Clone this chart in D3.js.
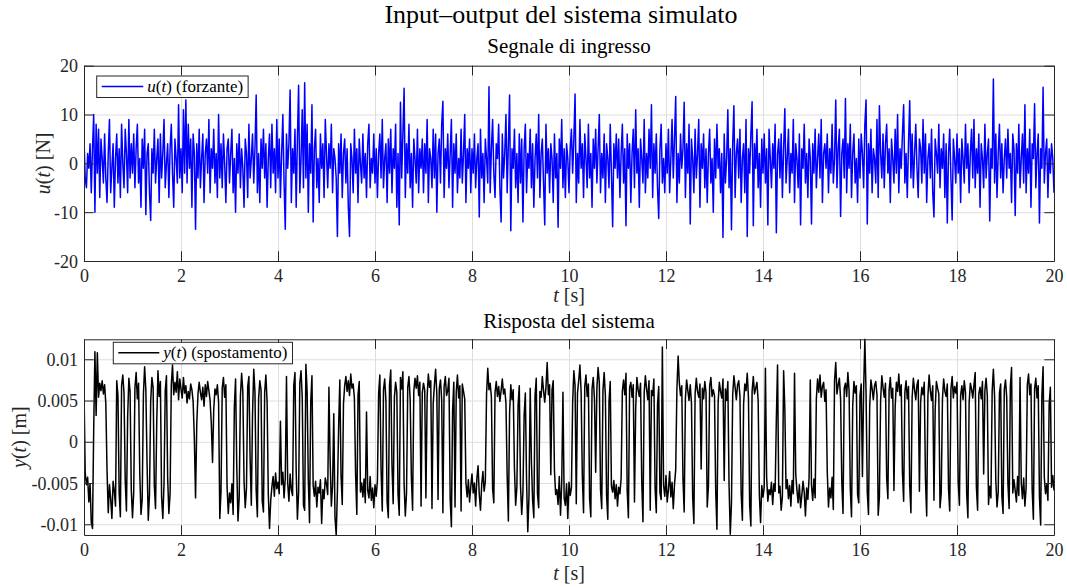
<!DOCTYPE html>
<html><head><meta charset="utf-8">
<script src="https://cdn.jsdelivr.net/npm/d3@7"></script>
<style>
body{margin:0;background:#fff}
svg{display:block}
text{font-family:"Liberation Serif","Times New Roman",serif}
</style>
</head><body>
<svg id="chart" width="1067" height="588"></svg>
<script>
// ---------------- data ----------------
const figureTitle = "Input\u2013output del sistema simulato";
const panelTitles = ["Segnale di ingresso", "Risposta del sistema"];
const timeStart = 0, timeEnd = 20, sampleStep = 0.025; // s
const xTicks = [0,2,4,6,8,10,12,14,16,18,20];
const uTicks = [-20,-10,0,10,20];
const uTickLabels = ["-20","-10","0","10","20"];
const yTicks = [-0.01,-0.005,0,0.005,0.01];
const yTickLabels = ["-0.01","-0.005","0","0.005","0.01"];

// u(t) forcing [N], one row per second (40 samples / s)
const uValues = [
5,-3,-5,2,-1,4,-6,3,10,-10,8,-2,7,-7,5,1,-4,6,-3,-8,2,9,-6,-1,4,-9,1,6,-4,3,-7,8,0,-5,7,2,-6,9,-3,4,
-2,6,-5,3,8,-4,1,-9,5,-1,7,-10.5,2,4,-6,-11.7,3,-2,7,-4,1,5,-8,6,-3,2,9,-5,0,4,-7,3,8,-2,-9,5,1,-4,12,-3,
3,-6,11,-2,13,-4,8,-1,5,-9,6,2,-13.5,4,-3,7,-5,1,6,-8,2,5,-2,9,-6,3,-1,7,-4,2,-7,10,-3,4,-5,6,0,-8,3,5,
-4,2,7,-6,1,-10,4,-2,6,-5,3,-1,-9,5,2,-7,8,-3,1,6,-4,3,14,-6,2,-8,5,-1,7,-3,4,-9,1,6,-5,8,-2,3,-6,9,
-3,5,-7,2,10,-4,-13.5,6,-1,4,15,-8,3,-2,7,-9,5,16,-6,1,11,-5,16.5,-3,8,-10,4,-2,12,-12,3,7,-5,1,-8,6,-1,4,-7,9,
2,-5,4,-1,8,-6,3,1,-3,-15,4,-2,6,-7,2,5,-4,3,-9,-15,4,1,-6,7,-2,3,-8,5,0,-4,6,-3,2,-7,4,8,-5,1,-2,6,
-4,3,-7,2,6,-3,9,-5,1,4,-8,5,-2,7,-6,3,-1,8,-9,2,-12.6,12.5,-3,6,15.4,-7,4,-2,8,-5,2,-9,5,1,-4,7,-6,3,-1,5,
-6,4,-2,9,-8,3,1,-5,7,-3,6,-10,2,5,-4,8,12.7,-7,3,-1,6,-5,2,9,-9,4,-2,6,-6,1,-3,7,-4,2,10,-8,3,-1,5,-6,
3,-2,6,-5,1,4,-11,7,-3,2,-8,5,1,-4,15.7,-6,3,9,-2,-7,4,1,8,-5,-12,6,-3,2,10,-6,4,14,-13.8,3,-1,7,-5,2,-8,6,
-4,5,-12,3,8,-6,2,-1,7,-5,4,-9,1,6,-3,10,-7,2,5,-4,-12.6,8,-2,3,-6,4,1,-8,6,-3,2,-13.1,5,-1,9,-5,3,-7,4,1,
-6,3,7,-2,5,14.2,-8,2,-4,9,-1,4,-7,6,1,-5,8,-3,2,-9,5,-1,7,-4,3,10,-6,2,-3,6,-8,4,1,-5,8,-2,-13,4,-1,6,
-3,5,-7,2,8,-4,3,-12.8,6,-1,4,-8,2,7,-5,11,-2,3,-9,5,1,-4,9,-6,2,-3,7,-1,12,-7,4,-2,6,-5,-11.3,3,8,-4,1,-6,
4,-2,7,-6,1,9,-3,5,13.7,-8,2,-4,6,-1,3,12.5,-7,4,-2,8,-12.4,5,1,-6,7,-3,2,9,-9,4,-1,6,-5,3,-8,2,7,-4,1,-10,
5,-3,8,-1,3,-6,2,-15.2,6,-4,1,11,-5,3,-13.6,4,11.8,-7,2,5,-3,7,-8,1,4,-6,9,-15,3,-2,6,12.6,-12.8,4,-1,7,-5,2,-9,5,
-2,6,-4,3,-12.6,7,1,-5,4,-1,8,-14.2,2,5,-3,6,-7,3,11.2,-4,1,7,-6,2,-2,9,-8,4,1,-5,6,-12.6,3,-1,8,-4,2,-7,5,1,
-12.4,4,-2,7,-5,1,6,-3,9,-8,2,4,-1,6,-6,3,-2,8,-4,1,13,-5,3,7,-10.9,2,5,-3,13.3,-6,4,-1,8,-7,2,6,-4,1,-8,5,
-3,6,2,-5,8,13,-12.4,4,-2,7,-6,3,1,-4,9,-7,11.8,2,-3,6,-5,4,8,-2,3,-8,5,1,-4,7,-2,10,-6,3,-1,6,12,-4,2,-7,
4,12.8,-3,6,-5,2,8,-1,-7,5,3,-4,9,-2,6,-8,1,4,-3,7,-6,-11,5,2,-2,8,-5,3,-1,6,-7,4,-12.2,2,7,-3,-11.6,5,1,-4,
6,-2,3,-8,5,1,-4,8,-1,4,-6,2,7,-3,9,-5,3,-2,6,-9,4,1,-5,8,-3,2,5,-11.8,3,-1,17.3,-4,6,-7,2,8,-3,4,-6,1,
5,-3,7,-1,2,-8,6,3,-10.7,4,-2,8,-5,1,6,-4,12,-6,3,-2,7,-9,4,1,12.2,-5,2,6,-12.2,3,-1,15.6,-4,2,5,-7,3,-2,4,1,
-6
];

// y(t) displacement [mm], one row per second (40 samples / s)
const yMillimetres = [
6.3,-3.8,-5.2,-4.3,-7.3,-5.1,-9.8,-10.5,1.5,10.9,3.2,10.8,5.4,7.1,6.2,7.4,5.8,6.9,4.6,-3.5,-8.6,-5.2,-6.9,-9.3,-4.8,-6.0,-7.8,7.4,5.6,-6.2,-9.1,6.8,8.1,5.9,-4.7,-8.4,3.0,7.7,6.1,-5.8,
-9.2,-6.1,6.5,8.4,5.2,7.1,-3.9,-8.8,-7.0,5.8,9.1,6.3,-2.5,-9.5,-6.4,4.9,7.8,6.6,-5.3,-8.1,2.4,8.6,5.5,7.3,-6.7,-9.3,-5.1,6.2,8.0,-4.4,-8.7,-6.3,6.9,9.3,5.7,7.2,6.0,8.5,5.1,7.6,
6.4,5.3,7.8,5.9,6.8,4.7,6.1,5.2,7.0,6.3,4.9,0.4,-6.8,2.1,5.8,7.2,6.0,5.1,6.6,4.3,6.9,5.5,7.3,6.2,5.0,2.2,-2.5,3.9,6.4,5.7,6.9,4.8,-9.3,-6.0,6.5,7.8,5.4,6.9,-5.5,-8.7,
-6.2,-7.4,-5.1,-8.8,4.2,7.6,-3.1,-9.6,-6.7,5.5,8.3,6.1,-4.8,-8.0,-5.6,6.7,7.9,-2.0,-7.7,3.3,8.8,6.0,-5.9,-9.1,5.2,7.4,6.3,-7.2,-8.5,6.0,8.1,4.9,-6.3,-10.5,-7.1,-5.4,-4.2,-6.6,-3.8,-5.7,
-4.9,-6.3,2.5,-5.2,-3.7,-6.8,-4.4,7.9,-5.0,-7.2,-3.9,-5.8,-6.5,6.8,8.4,-3.5,-9.4,-6.1,7.1,8.6,5.3,-7.7,-8.3,9.4,6.2,-4.6,-9.8,4.8,8.0,-5.3,-6.6,-4.8,-7.9,-5.5,-6.2,-4.6,-9.9,-5.8,-6.9,-4.4,
-5.1,-6.4,6.6,-2.2,-7.8,-5.3,3.4,-9.1,-11.3,-6.0,1.8,7.5,-4.1,-7.6,4.6,6.8,7.9,6.1,7.4,5.6,8.2,6.5,7.0,5.3,-3.9,-8.8,5.7,7.3,-6.1,-5.0,-6.7,-4.5,-7.4,3.6,-5.9,-6.8,-4.2,-7.1,-5.6,-8.0,
-5.2,-6.6,-4.7,5.9,8.1,-3.3,-8.4,6.3,7.6,5.0,-7.3,-9.2,6.9,8.7,-2.8,-7.5,5.4,7.2,6.0,-6.4,-8.9,7.8,6.4,8.5,-5.1,-9.0,-6.2,6.6,7.9,5.2,-4.3,-8.3,6.1,7.7,6.5,8.0,5.6,7.2,-7.8,5.9,
7.1,6.3,-6.8,5.5,8.2,6.6,7.4,-8.1,4.6,6.9,8.8,5.8,-7.0,6.4,7.5,5.1,-8.6,6.7,7.9,5.6,6.2,7.7,-6.9,-10.3,3.8,7.2,-7.9,6.0,8.1,5.3,6.8,-8.4,7.0,6.1,5.2,-5.0,-6.7,-4.6,-7.3,-5.4,
-3.9,-6.2,-5.0,-7.8,-4.5,-2.9,-6.4,-8.3,-5.2,-3.6,-6.0,-4.8,5.8,8.9,6.3,7.1,5.4,-5.7,-7.4,6.0,7.3,5.5,6.7,4.9,6.2,7.6,5.8,6.4,4.7,-4.1,-9.6,3.5,6.9,5.1,6.3,-3.2,-7.7,-5.5,4.4,6.8,
-5.3,-8.8,-6.1,3.2,5.9,-4.7,-10.9,-6.6,6.5,-2.4,-7.1,-9.2,5.6,7.7,-6.3,-8.0,6.1,5.4,7.9,6.2,4.8,6.6,9.6,5.7,6.9,-4.0,6.3,7.4,-3.5,-6.4,-5.8,-7.6,-4.2,-8.9,-5.0,6.0,-6.8,-7.7,-5.1,-9.3,
-4.9,-6.5,-5.6,4.7,8.6,6.8,-7.5,5.9,7.4,9.3,6.0,-4.2,-8.6,6.7,8.1,5.5,7.0,-6.9,-9.1,6.4,7.8,5.2,-3.7,6.5,9.0,7.2,-5.8,-8.1,6.2,8.4,5.6,-6.5,-9.4,4.9,7.3,-5.4,-6.1,-4.7,-6.9,-5.2,
-7.8,-5.5,-6.3,-4.4,6.1,7.5,5.7,8.3,-6.0,-9.2,6.6,7.2,5.4,6.9,-7.3,4.1,7.8,6.3,5.5,7.1,-4.8,-9.7,5.9,8.0,6.4,5.1,7.4,-8.3,6.2,5.6,7.6,-5.6,-8.6,4.5,6.7,-6.2,-7.0,11.5,-5.3,-6.6,
-4.1,-7.3,-5.8,-3.6,-6.7,-4.9,-8.1,-5.2,-3.4,6.4,10.4,7.1,5.6,6.8,-4.5,-8.5,5.3,7.5,6.2,5.0,6.9,4.7,-6.7,-9.9,5.8,7.7,6.1,5.4,7.0,-3.3,6.5,5.2,7.3,6.0,-7.9,-5.4,6.7,7.8,5.5,6.3,
5.6,-6.0,-10.6,4.8,7.2,6.1,5.3,7.6,-4.7,6.4,5.0,7.3,-5.2,-11.2,-7.4,5.7,8.0,6.6,5.1,6.9,7.4,5.5,-6.3,-9.5,4.6,7.0,6.2,8.3,5.4,-7.7,-10.2,6.1,7.9,5.8,6.5,7.2,5.0,-6.4,-9.8,-5.3,
-6.7,-5.5,8.9,-4.3,-7.2,-5.8,-6.4,-4.9,-7.6,-5.1,-6.0,2.7,9.3,-6.2,-5.4,-8.3,-6.6,8.6,4.1,-5.7,-4.6,-6.9,-5.3,-7.8,-4.7,-6.3,8.3,-3.9,-5.9,-7.4,-5.2,-8.0,-6.5,-4.8,-6.1,-9.0,-5.6,-7.0,-4.4,7.5,
-5.3,-7.1,-4.5,-6.8,5.2,7.6,6.0,8.1,5.4,6.7,7.2,4.9,6.3,-3.6,-7.9,-5.6,-6.8,-4.3,-8.2,7.4,9.6,5.8,6.9,7.7,5.2,-4.9,-8.7,6.5,7.1,5.5,8.4,6.2,-5.7,-9.1,4.4,7.3,5.9,6.8,-6.4,-7.4,
5.6,7.0,-4.2,6.3,12.42,5.9,-6.1,-8.8,4.3,7.5,6.4,5.1,6.8,7.3,5.7,-8.9,-6.7,5.0,8.0,6.6,5.4,7.1,-4.4,-6.9,6.2,7.8,5.3,6.5,-5.9,4.2,7.2,6.1,8.2,5.6,6.9,-3.7,-7.2,6.0,7.4,5.2,
6.7,-5.3,-8.6,5.4,7.7,6.3,5.1,6.9,7.5,-6.0,4.8,6.6,5.7,7.2,-4.6,-9.0,5.5,8.1,6.2,5.0,6.8,-7.1,3.9,7.3,6.5,5.8,-8.0,-6.2,5.2,7.6,6.1,5.5,7.0,-5.7,-8.4,6.4,7.9,5.3,6.7,5.9,
7.2,-4.9,-7.7,5.6,6.8,5.1,7.4,6.0,-6.3,-9.2,4.7,7.1,6.4,5.3,6.9,8.4,-5.5,-8.3,5.8,6.6,5.2,7.3,-3.9,6.2,7.7,5.6,-7.6,-5.4,-6.8,6.1,8.8,5.5,-4.7,-7.9,-6.1,5.9,7.0,-6.6,-8.7,6.3,
7.5,5.4,-5.1,-8.1,6.7,9.0,-6.2,-4.6,-5.9,-7.3,-4.2,-6.5,7.8,-5.0,-6.9,-4.4,-7.8,-5.6,6.9,8.2,5.7,7.0,-5.8,-9.4,6.4,7.7,5.3,6.8,-6.7,-10.1,5.6,9.1,-4.3,-6.3,-5.2,-7.1,4.5,6.6,-5.5,-4.1,
-5.9
];

// ---------------- drawing ----------------
const svg = d3.select("#chart");
const ink = "#262626";
const plotLeft = 84, plotRight = 1054;
const panels = [
  {top: 65.7, bottom: 261, title: panelTitles[0], titleY: 53, xLabelY: 302,
   values: uValues.map((v,i)=>({t: timeStart + i*sampleStep, v})),
   domain: [-20, 20], ticks: uTicks, tickLabels: uTickLabels, color: "#0000ff",
   yLabel: ["u","(","t",") [N]"], yLabelX: 50,
   legend: {x: 96.7, y: 76, lineX1: 101.7, lineX2: 143.3, parts: ["u","(","t",") (forzante)"]}},
  {top: 339.3, bottom: 535, title: panelTitles[1], titleY: 328, xLabelY: 580,
   values: yMillimetres.map((v,i)=>({t: timeStart + i*sampleStep, v: v/1000})),
   domain: null, ticks: yTicks, tickLabels: yTickLabels, color: "#000000",
   yLabel: ["y","(","t",") [m]"], yLabelX: 26,
   legend: {x: 113.3, y: 342.3, lineX1: 118.3, lineX2: 159.3, parts: ["y","(","t",") (spostamento)"]}}
];

const x = d3.scaleLinear().domain([timeStart, timeEnd]).range([plotLeft, plotRight]);

svg.append("text").attr("x", 561).attr("y", 23).attr("text-anchor","middle")
  .attr("font-size", 26).attr("fill","#000").text(figureTitle);

function addMath(sel, parts){
  parts.forEach((p,i)=>{
    sel.append("tspan").attr("font-style", (i===0||i===2)?"italic":"normal").text(p);
  });
}

panels.forEach((p, k) => {
  const dom = p.domain || d3.extent(p.values, d=>d.v);
  const y = d3.scaleLinear().domain(dom).range([p.bottom, p.top]);
  const h = p.bottom - p.top, w = plotRight - plotLeft;
  const g = svg.append("g");
  const tick = 9.7;

  g.append("rect").attr("x", plotLeft).attr("y", p.top).attr("width", w).attr("height", h).attr("fill","#fff");

  // grid
  const gx = g.append("g").attr("transform", `translate(0,${p.bottom})`)
    .call(d3.axisBottom(x).tickValues(xTicks).tickSize(-h).tickFormat(""));
  const gy = g.append("g").attr("transform", `translate(${plotLeft},0)`)
    .call(d3.axisLeft(y).tickValues(p.ticks).tickSize(-w).tickFormat(""));
  [gx, gy].forEach(a => { a.select(".domain").remove(); a.selectAll("line").attr("stroke","#dedede").attr("stroke-width",1); });

  // data
  const clipId = "clip" + k;
  svg.append("clipPath").attr("id", clipId).append("rect")
    .attr("x", plotLeft).attr("y", p.top - 1).attr("width", w).attr("height", h + 2);
  g.append("path").datum(p.values).attr("clip-path", `url(#${clipId})`)
    .attr("fill","none").attr("stroke", p.color).attr("stroke-width", 1.5).attr("stroke-linejoin","round")
    .attr("d", d3.line().x(d=>x(d.t)).y(d=>y(d.v)));

  // axes (ticks inside)
  const ab = g.append("g").attr("transform", `translate(0,${p.bottom})`)
    .call(d3.axisBottom(x).tickValues(xTicks).tickSizeInner(-tick).tickSizeOuter(0).tickPadding(8).tickFormat(d=>String(d)));
  const at = g.append("g").attr("transform", `translate(0,${p.top})`)
    .call(d3.axisTop(x).tickValues(xTicks).tickSizeInner(-tick).tickSizeOuter(0).tickFormat(""));
  const al = g.append("g").attr("transform", `translate(${plotLeft},0)`)
    .call(d3.axisLeft(y).tickValues(p.ticks).tickSizeInner(-tick).tickSizeOuter(0).tickPadding(6)
      .tickFormat((d,i)=>p.tickLabels[i]));
  const ar = g.append("g").attr("transform", `translate(${plotRight},0)`)
    .call(d3.axisRight(y).tickValues(p.ticks).tickSizeInner(-tick).tickSizeOuter(0).tickFormat(""));
  [ab, at, al, ar].forEach(a => {
    a.select(".domain").attr("stroke", ink).attr("stroke-width", 1);
    a.selectAll(".tick line").attr("stroke", ink).attr("stroke-width", 1);
    a.selectAll("text").attr("font-family", '"Liberation Serif",serif').attr("font-size", 18).attr("fill", ink);
  });
  al.selectAll("text").attr("dy", "0.34em");

  // titles and labels
  g.append("text").attr("x", (plotLeft+plotRight)/2).attr("y", p.titleY).attr("text-anchor","middle")
    .attr("font-size", 21).attr("fill","#000").text(p.title);
  const xl = g.append("text").attr("x", (plotLeft+plotRight)/2).attr("y", p.xLabelY)
    .attr("text-anchor","middle").attr("font-size", 20).attr("fill", ink);
  addMath(xl, ["t"," [s]"]);
  xl.selectAll("tspan").attr("font-style", (d,i)=> i===0 ? "italic" : "normal");
  const yl = g.append("text").attr("transform", `translate(${p.yLabelX},${(p.top+p.bottom)/2}) rotate(-90)`)
    .attr("text-anchor","middle").attr("font-size", 20).attr("fill", ink);
  addMath(yl, p.yLabel);

  // legend
  const L = p.legend;
  const lg = g.append("g");
  const box = lg.append("rect").attr("x", L.x).attr("y", L.y).attr("height", 21.5)
    .attr("fill","#fff").attr("stroke", ink).attr("stroke-width", 1);
  const ly = L.y + 10.5;
  lg.append("line").attr("x1", L.lineX1).attr("x2", L.lineX2).attr("y1", ly).attr("y2", ly)
    .attr("stroke", p.color).attr("stroke-width", 1.6);
  const lt = lg.append("text").attr("x", L.lineX2 + 4).attr("y", ly + 5.5).attr("font-size", 17).attr("fill","#000");
  addMath(lt, L.parts);
  const tw = lt.node().getComputedTextLength();
  box.attr("width", L.lineX2 + 4 + tw + 5 - L.x);
});
</script>
</body></html>
